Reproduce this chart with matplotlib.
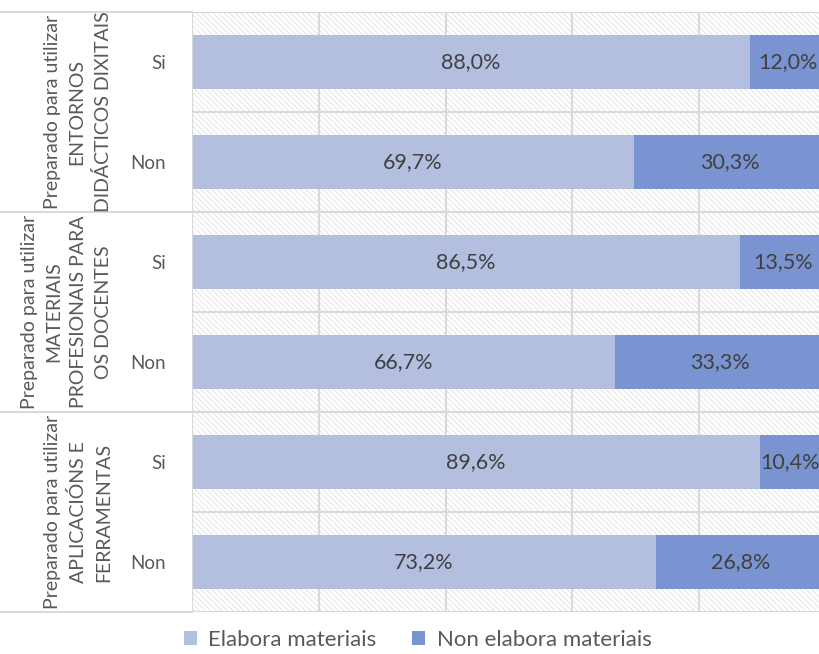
import matplotlib.pyplot as plt
import matplotlib.patches as mpatches
from matplotlib.lines import Line2D

plt.rcParams['font.family'] = ['Lato', 'DejaVu Sans']
plt.rcParams['hatch.linewidth'] = 0.6

# data
groups = ['Preparado para utilizar\nENTORNOS\nDIDÁCTICOS DIXITAIS',
          'Preparado para utilizar\nMATERIAIS\nPROFESIONAIS PARA\nOS DOCENTES',
          'Preparado para utilizar\nAPLICACIÓNS E\nFERRAMENTAS']
answers = ['Si', 'Non', 'Si', 'Non', 'Si', 'Non']
elabora = [88.0, 69.7, 86.5, 66.7, 89.6, 73.2]
non_elabora = [12.0, 30.3, 13.5, 33.3, 10.4, 26.8]

c_light = '#B4BFE0'
c_dark = '#7A93D1'
grid_c = '#D9D9D9'
txt_c = '#404040'

W, H = 819, 654
fig = plt.figure(figsize=(W / 100, H / 100), dpi=100)
# axis runs a bit past the right edge, like the cropped original
ax = fig.add_axes([192 / W, 1 - 612 / H, (826 - 192) / W, 600 / H])

# hatched background
ax.add_patch(mpatches.Rectangle((0, 0), 1, 1, transform=ax.transAxes,
                                facecolor='white', edgecolor='#E0E0E0',
                                hatch='\\\\\\\\\\\\', lw=0, zorder=0))

ypos = [i + 0.5 for i in range(len(answers))]
ax.barh(ypos, elabora, height=0.54, color=c_light, zorder=3, label='Elabora materiais')
ax.barh(ypos, non_elabora, left=elabora, height=0.54, color=c_dark, zorder=3,
        label='Non elabora materiais')

for y, a, b in zip(ypos, elabora, non_elabora):
    ax.text(a / 2, y, f'{a:.1f}%'.replace('.', ','), ha='center', va='center',
            fontsize=15.5, color=txt_c, zorder=4)
    # keep the small segment's label inside the visible area
    ax.text(min(a + b / 2, 94.4), y, f'{b:.1f}%'.replace('.', ','), ha='center',
            va='center', fontsize=15.5, color=txt_c, zorder=4)

ax.set_xlim(0, 100)
ax.set_ylim(len(answers), 0)
for xv in [20, 40, 60, 80]:
    ax.axvline(xv, color=grid_c, lw=1.5, zorder=1)
for yv in range(0, len(answers) + 1):
    ax.axhline(yv, color=grid_c, lw=1.5, zorder=1)
ax.axvline(0, color=grid_c, lw=1.5, zorder=5)

ax.set_xticks([])
ax.set_yticks(ypos)
ax.set_yticklabels(answers, fontsize=13.5, color='#595959')
ax.tick_params(axis='y', length=0, pad=19)
for s in ax.spines.values():
    s.set_visible(False)

# group separators reach the left edge
for k in range(len(groups) + 1):
    yf = 1 - (12 + 200 * k) / H
    fig.add_artist(Line2D([0, 192 / W], [yf, yf], color=grid_c, lw=1.5))

for k, g in enumerate(groups):
    yf = 1 - (112 + 200 * k) / H
    fig.text(112 / W, yf, g, rotation=90, ha='right', va='center',
             multialignment='center', fontsize=14, color='#595959',
             linespacing=1.55)

fig.legend(loc='center', bbox_to_anchor=(0.51, 1 - 640 / H), ncol=2,
           frameon=False, fontsize=16, handlelength=0.6, handleheight=0.6,
           handletextpad=0.5, columnspacing=1.6, labelcolor='#595959')

fig.savefig('out.png', dpi=100)
